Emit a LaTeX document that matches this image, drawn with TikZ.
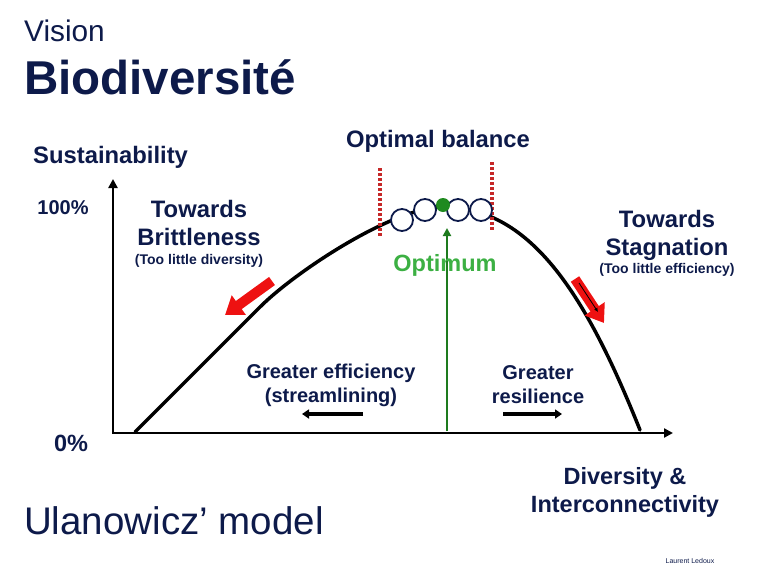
\documentclass[tikz,border=0pt]{standalone}
\usepackage{fontspec}
\setmainfont{Liberation Sans}
\usepackage{tikz}
\usetikzlibrary{arrows.meta,positioning}
\definecolor{navytext}{HTML}{0D1A4A}
\definecolor{optgreen}{HTML}{3CB043}
\definecolor{stemgreen}{HTML}{1E7B1E}
\definecolor{dotgreen}{HTML}{1F8A1F}
\definecolor{redarrow}{HTML}{EE1111}
\definecolor{reddash}{HTML}{C62828}

\begin{document}
\begin{tikzpicture}[x=1pt, y=-1pt,
  lbl/.style 2 args={font=\fontsize{#1}{#2}\selectfont\bfseries, text=navytext, align=center, inner sep=0pt},
  plain/.style={font=\fontsize{#1}{#1}\selectfont, text=navytext, anchor=west, inner sep=0pt},
  axis/.style={line width=2.8pt, {Triangle[length=9pt,width=9pt]}-{Triangle[length=9pt,width=9pt]}},
  curve/.style={line width=3.5pt, line cap=round},
  bead/.style={circle, draw=navytext, fill=white, line width=1.8pt, minimum size=22pt, inner sep=0pt},
  dashline/.style={reddash, line width=3.5pt, dash pattern=on 3pt off 2pt},
  fatarrow/.style={redarrow, line width=10pt, -{Triangle[width=23pt,length=17pt]}},
  flow/.style={line width=3.5pt, -{Triangle[length=7pt,width=9pt]}},
]
  \useasboundingbox (0,0) rectangle (780,576);

  \node[plain=29.8] (vision) at (24,31) {Vision};
  \node[lbl={47.5}{50}, anchor=west] (title) at (24,77) {Biodiversité};
  \node[lbl={23.8}{26}, anchor=west] (sust) at (33,157) {Sustainability};
  \node[lbl={23.8}{26}] (balance) at (438,141) {Optimal balance};
  \node[lbl={20}{24}] (hundred) at (63,208) {100\%};
  \node[lbl={23.5}{24}] (zero) at (71,443) {0\%};

  \coordinate (origin) at (113,433);
  \coordinate (ytop) at (113,179);
  \coordinate (xend) at (673,433);
  \draw[axis] (ytop) -- (origin) -- (xend);

  \coordinate (foot) at (135,432);
  \coordinate (bend) at (260,307);
  \coordinate (top) at (443,207);
  \coordinate (end) at (640,430);
  \draw[curve] (foot) -- (bend) .. controls (295,272) and (393,207) .. (top)
    .. controls (533,207) and (588,300) .. (end);

  \coordinate (lim1a) at (380,168);
  \coordinate (lim1b) at (380,236);
  \coordinate (lim2a) at (492,162);
  \coordinate (lim2b) at (492,231);
  \draw[dashline] (lim1a) -- (lim1b);
  \draw[dashline] (lim2a) -- (lim2b);

  \foreach \cx/\cy [count=\i] in {402/220, 425/210, 458/210, 481/210}
    \node[bead] (b\i) at (\cx,\cy) {};
  \node[circle, fill=dotgreen, minimum size=14pt, inner sep=0pt] (peak) at (443,205) {};

  \coordinate (stem) at (447,431);
  \coordinate (stemtop) at (447,228);
  \draw[stemgreen, line width=2pt, -{Triangle[length=8pt,width=8pt]}] (stem) -- (stemtop);
  \node[lbl={23.5}{28}, text=optgreen] (optimum) at (445,265) {Optimum};

  \node[lbl={23.8}{28}] (brittle) at (199,223) {Towards\\Brittleness};
  \node[lbl={14}{16}] (brittlesub) at (199,261) {(Too little diversity)};
  \node[lbl={23.8}{28}] (stagn) at (667,235) {Towards\\Stagnation};
  \node[lbl={14}{16}] (stagnsub) at (667,270) {(Too little efficiency)};

  \coordinate (ra1) at (272,281);
  \coordinate (ra2) at (225,315);
  \coordinate (rb1) at (575,279);
  \coordinate (rb2) at (604,323);
  \draw[fatarrow] (ra1) -- (ra2);
  \draw[fatarrow] (rb1) -- (rb2);
  \coordinate (rc1) at (579,283);
  \coordinate (rc2) at (598,312);
  \draw[line width=0.8pt, -{Latex[length=4pt,width=4pt]}] (rc1) -- (rc2);

  \node[lbl={20}{24}] (effic) at (331,385) {Greater efficiency\\(streamlining)};
  \node[lbl={20}{24}] (resil) at (538,385) {Greater\\resilience};
  \coordinate (ea) at (363,414);
  \coordinate (eb) at (302,414);
  \coordinate (fa) at (503,414);
  \coordinate (fb) at (562,414);
  \draw[flow] (ea) -- (eb);
  \draw[flow] (fa) -- (fb);

  \node[lbl={23.5}{28}] (divers) at (625,492) {Diversity \&\\Interconnectivity};
  \node[plain=38.5] (model) at (24,521) {Ulanowicz’ model};
  \node[font=\fontsize{7}{8}\selectfont, text=navytext, inner sep=0pt] (credit) at (690,561) {Laurent Ledoux};
\end{tikzpicture}
\end{document}
